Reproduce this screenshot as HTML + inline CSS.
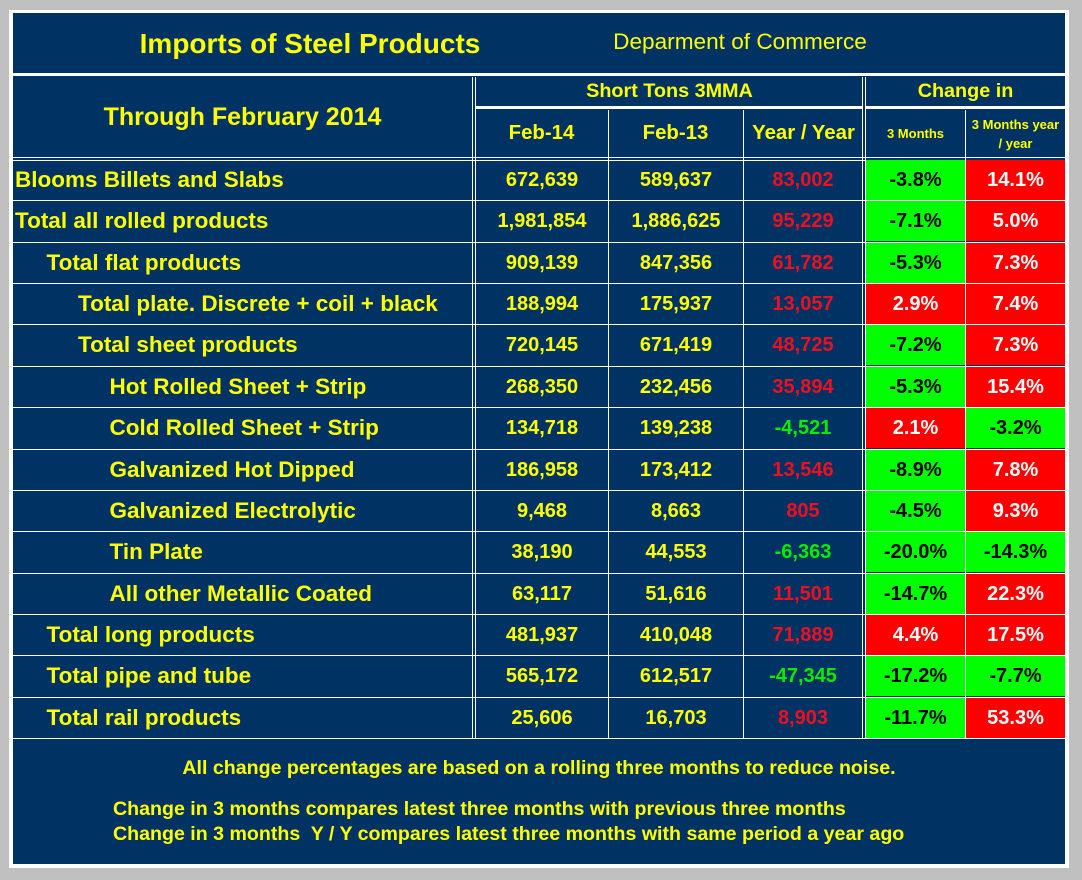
<!DOCTYPE html>
<html><head><meta charset="utf-8"><style>
body{margin:0;width:1082px;height:880px;background:#c0c0c0;position:relative;overflow:hidden;font-family:"Liberation Sans",Arial,sans-serif;font-weight:bold}
.a{position:absolute;box-sizing:border-box}
.ln{position:absolute;background:#fff}
.c{position:absolute;display:flex;align-items:center;justify-content:center;color:#ffff00;font-size:20px;white-space:nowrap}
</style></head><body>
<div class="a" style="left:9px;top:10px;width:1060px;height:858px;background:#fff"></div>
<div class="a" style="left:13px;top:13px;width:1052px;height:851px;background:#003263"></div>
<div class="c" style="left:100px;top:22px;width:420px;height:44px;font-size:28px">Imports of Steel Products</div>
<div class="c" style="left:590px;top:22px;width:300px;height:40px;font-size:22.6px;font-weight:normal">Deparment of Commerce</div>
<div class="c" style="left:13px;top:77px;width:459px;height:80px;font-size:25px">Through February 2014</div>
<div class="c" style="left:476px;top:77px;width:387px;height:29px;font-size:19.8px">Short Tons 3MMA</div>
<div class="c" style="left:866px;top:77px;width:199px;height:29px;font-size:19.8px">Change in</div>
<div class="c" style="left:476px;top:110px;width:131px;height:47px;font-size:20.4px">Feb-14</div>
<div class="c" style="left:609px;top:110px;width:133px;height:47px;font-size:20.4px">Feb-13</div>
<div class="c" style="left:744px;top:110px;width:119px;height:47px;font-size:20.4px">Year / Year</div>
<div class="c" style="left:866px;top:110px;width:99px;height:47px;font-size:13px">3 Months</div>
<div class="c" style="left:966px;top:110px;width:99px;height:47px;font-size:13px;text-align:center;line-height:19px;overflow:hidden">3 Months year<br>/ year</div>
<div class="c" style="left:13px;top:755px;width:1052px;height:26px;font-size:19.6px">All change percentages are based on a rolling three months to reduce noise.</div>
<div class="a" style="left:113px;top:798px;color:#ff0;font-size:19.6px">Change in 3 months compares latest three months with previous three months</div>
<div class="a" style="left:113px;top:823px;color:#ff0;font-size:19.6px;white-space:pre">Change in 3 months  Y / Y compares latest three months with same period a year ago</div>
<div id="grid"></div>
<script>
const labels=["Blooms Billets and Slabs","Total all rolled products","Total flat products","Total plate. Discrete + coil + black","Total sheet products","Hot Rolled Sheet + Strip","Cold Rolled Sheet + Strip","Galvanized Hot Dipped","Galvanized Electrolytic","Tin Plate","All other Metallic Coated","Total long products","Total pipe and tube","Total rail products"];
const indents=[0,0,1,2,2,3,3,3,3,3,3,1,1,1];
const feb14=[672639,1981854,909139,188994,720145,268350,134718,186958,9468,38190,63117,481937,565172,25606];
const feb13=[589637,1886625,847356,175937,671419,232456,139238,173412,8663,44553,51616,410048,612517,16703];
const yoyDiff=[83002,95229,61782,13057,48725,35894,-4521,13546,805,-6363,11501,71889,-47345,8903];
const chg3m=[-3.8,-7.1,-5.3,2.9,-7.2,-5.3,2.1,-8.9,-4.5,-20.0,-14.7,4.4,-17.2,-11.7];
const chgYoY=[14.1,5.0,7.3,7.4,7.3,15.4,-3.2,7.8,9.3,-14.3,22.3,17.5,-7.7,53.3];
const g=document.getElementById('grid');
const top0=159, rh=41.36;
function add(cls,st,txt){const d=document.createElement('div');d.className=cls;d.style.cssText=st;if(txt!==undefined)d.textContent=txt;g.appendChild(d);return d;}
const fmt=n=>n.toLocaleString('en-US');
let l;
l=add('ln','left:13px;top:73px;width:1052px;height:3px');
l=add('ln','left:476px;top:106px;width:387px;height:3px');
l=add('ln','left:866px;top:106px;width:199px;height:3px');
l=add('ln','left:13px;top:157px;width:1052px;height:1px');
l=add('ln','left:13px;top:160px;width:1052px;height:1px');
l=add('ln','left:13px;top:738px;width:1052px;height:1px');
[[472,77],[475,77],[608,110],[743,110],[862,77],[865,77],[965,110]].forEach(([x,t])=>{
  l=add('ln','left:'+x+'px;top:'+t+'px;width:1px;height:'+(738-t)+'px');
  
  
});
labels.forEach((lab,i)=>{
  const y=top0+i*rh;
  if(i>0){l=add('ln','left:13px;top:'+Math.round(y)+'px;width:1052px;height:1px');
    
    }
  const ty=Math.round(y)+1,h=Math.round(rh)-1;
  let c=add('c','left:'+(15+indents[i]*31.5)+'px;top:'+ty+'px;height:'+h+'px;font-size:22.5px',lab);
  
  
  c=add('c','left:476px;top:'+ty+'px;width:132px;height:'+h+'px',fmt(feb14[i]));
  
  
  c=add('c','left:609px;top:'+ty+'px;width:134px;height:'+h+'px',fmt(feb13[i]));
  
  
  const d=yoyDiff[i];
  c=add('c','left:744px;top:'+ty+'px;width:118px;height:'+h+'px;color:'+(d<0?'#00ee00':'#ee1020'),fmt(d));
  
  
  const v1=chg3m[i];
  c=add('c','left:866px;top:'+ty+'px;width:99px;height:'+h+'px;background:'+(v1<0?'#00ff00':'#ff0000')+';color:'+(v1<0?'#000':'#fff'),v1.toFixed(1)+'%');
  
  
  const v2=chgYoY[i];
  c=add('c','left:966px;top:'+ty+'px;width:99px;height:'+h+'px;background:'+(v2<0?'#00ff00':'#ff0000')+';color:'+(v2<0?'#000':'#fff'),v2.toFixed(1)+'%');
  
  
});
</script>
</body></html>
